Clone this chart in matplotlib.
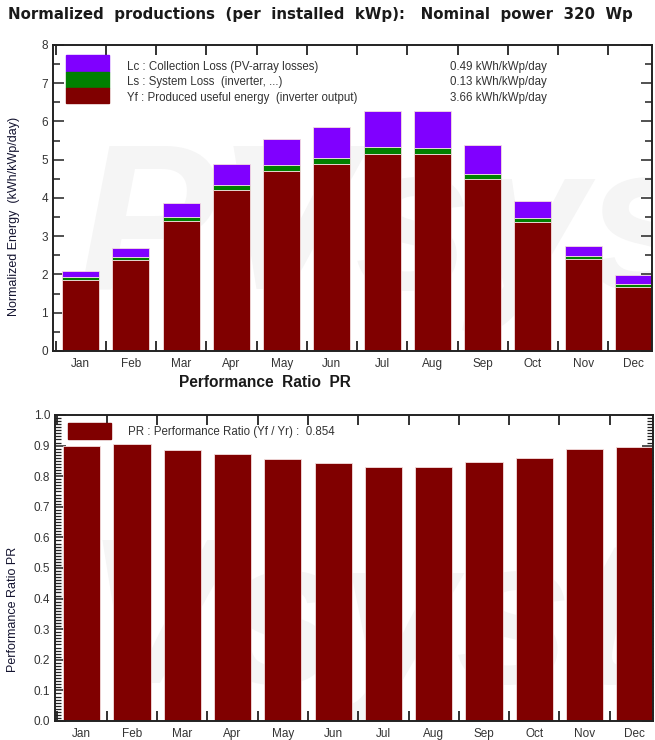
import matplotlib
matplotlib.use("Agg")
import matplotlib.pyplot as plt
from matplotlib.ticker import MultipleLocator, FixedLocator, NullFormatter
from matplotlib.patches import Rectangle

# ---- data -------------------------------------------------------------
months = ["Jan", "Feb", "Mar", "Apr", "May", "Jun",
          "Jul", "Aug", "Sep", "Oct", "Nov", "Dec"]

# Produced useful energy Yf (kWh/kWp/day)
yf = [1.86, 2.38, 3.40, 4.21, 4.71, 4.90, 5.14, 5.14, 4.49, 3.36, 2.41, 1.68]
# System loss Ls (inverter, ...)
ls = [0.07, 0.07, 0.11, 0.12, 0.14, 0.15, 0.20, 0.16, 0.15, 0.11, 0.08, 0.08]
# Collection loss Lc (PV-array losses)
lc = [0.16, 0.24, 0.37, 0.57, 0.69, 0.81, 0.94, 0.98, 0.74, 0.45, 0.26, 0.22]

# Performance ratio per month
pr = [0.900, 0.906, 0.886, 0.871, 0.855, 0.842, 0.830, 0.830, 0.846, 0.860, 0.890, 0.896]

legend_energy = ["Lc : Collection Loss (PV-array losses)",
                 "Ls : System Loss  (inverter, ...)",
                 "Yf : Produced useful energy  (inverter output)"]
legend_values = ["0.49 kWh/kWp/day", "0.13 kWh/kWp/day", "3.66 kWh/kWp/day"]
pr_legend = "PR : Performance Ratio (Yf / Yr) :  0.854"

title = "Normalized  productions  (per  installed  kWp):   Nominal  power  320  Wp"
title2 = "Performance  Ratio  PR"

# ---- style ------------------------------------------------------------
C_YF = "#800000"
C_LS = "#008000"
C_LC = "#8000ff"
TXT = "#333333"
FONT = ["Liberation Sans", "DejaVu Sans"]
NARROW = ["Liberation Sans Narrow", "Liberation Sans", "DejaVu Sans"]
plt.rcParams["font.family"] = FONT

fig = plt.figure(figsize=(6.55, 7.40), dpi=100)

ax1 = fig.add_axes([0.0809, 0.5257, 0.9145, 0.4135])
ax2 = fig.add_axes([0.0840, 0.0257, 0.9130, 0.4135])

x = list(range(len(months)))
width = 0.74


def style_axis(ax):
    for s in ax.spines.values():
        s.set_linewidth(1.4)
        s.set_color("#222222")
    ax.xaxis.set_major_locator(FixedLocator([i + 0.5 for i in range(-1, 12)]))
    ax.xaxis.set_major_formatter(NullFormatter())
    ax.xaxis.set_minor_locator(FixedLocator(x))
    ax.set_xticklabels(months, minor=True)
    ax.tick_params(axis="x", which="major", direction="in", length=7, width=1.3,
                   top=True, bottom=True, color="#222222")
    ax.tick_params(axis="x", which="minor", length=0, labelsize=8.5,
                   labelcolor=TXT, pad=5)
    ax.tick_params(axis="y", which="both", direction="in", left=True, right=True,
                   width=1.1, color="#222222", labelsize=8.5, labelcolor=TXT)


def watermark(ax, xpos, ypos):
    ax.text(xpos, ypos, "PVsyst", transform=ax.transAxes, fontsize=150,
            fontweight="bold", style="italic", color="#f5f5f5",
            ha="center", va="center", zorder=0, clip_on=True)


# ---- top: normalized productions --------------------------------------
watermark(ax1, 0.62, 0.38)
bottom_ls = yf
bottom_lc = [a + b for a, b in zip(yf, ls)]
ax1.bar(x, yf, width=width, color=C_YF, edgecolor="#f4dede", linewidth=0.6, zorder=2)
ax1.bar(x, ls, width=width, bottom=bottom_ls, color=C_LS, edgecolor="#f4dede",
        linewidth=0.6, zorder=2)
ax1.bar(x, lc, width=width, bottom=bottom_lc, color=C_LC, edgecolor="#f4dede",
        linewidth=0.6, zorder=2)
ax1.set_xlim(-0.55, 11.37)
ax1.set_ylim(0, 8)
ax1.yaxis.set_major_locator(MultipleLocator(1))
ax1.yaxis.set_minor_locator(MultipleLocator(0.5))
style_axis(ax1)
ax1.tick_params(axis="y", which="major", length=8)
ax1.tick_params(axis="y", which="minor", length=5)

# legend block (stacked colour swatches)
sw_x, sw_w = 0.021, 0.072
sw_rows = [(0.912, 0.967, C_LC), (0.859, 0.912, C_LS), (0.810, 0.859, C_YF)]
for y0, y1, c in sw_rows:
    ax1.add_patch(Rectangle((sw_x, y0), sw_w, y1 - y0, transform=ax1.transAxes,
                            color=c, zorder=3))
text_y = [0.929, 0.879, 0.828]
for t, v, ty in zip(legend_energy, legend_values, text_y):
    ax1.text(0.123, ty, t, transform=ax1.transAxes, fontsize=8.3, color=TXT,
             va="center", ha="left", zorder=4)
    ax1.text(0.662, ty, v, transform=ax1.transAxes, fontsize=8.3, color=TXT,
             va="center", ha="left", zorder=4)

# ---- bottom: performance ratio ----------------------------------------
watermark(ax2, 0.40, 0.30)
ax2.bar(x, pr, width=width, color=C_YF, edgecolor="#f4dede", linewidth=0.6, zorder=2)
ax2.set_xlim(-0.53, 11.36)
ax2.set_ylim(0, 1.0)
ax2.yaxis.set_major_locator(MultipleLocator(0.1))
ax2.yaxis.set_minor_locator(MultipleLocator(0.01))
ax2.yaxis.set_major_formatter(plt.FuncFormatter(lambda v, p: f"{v:.1f}"))
style_axis(ax2)
ax2.tick_params(axis="y", which="major", length=8)
ax2.tick_params(axis="y", which="minor", length=4, width=0.9)

ax2.add_patch(Rectangle((0.022, 0.922), 0.072, 0.052, transform=ax2.transAxes,
                        color=C_YF, zorder=3))
ax2.text(0.122, 0.946, pr_legend, transform=ax2.transAxes, fontsize=8.3,
         color=TXT, va="center", ha="left", zorder=4)

# ---- titles and axis labels -------------------------------------------
fig.text(0.012, 0.981, title, fontsize=10.8, fontweight="bold", color="#1a1a1a",
         family=["DejaVu Sans"], ha="left", va="center")
fig.text(0.405, 0.483, title2, fontsize=11.2, fontweight="bold", color="#1a1a1a",
         ha="center", va="center")
fig.text(0.022, 0.707, "Normalized Energy  (kWh/kWp/day)", rotation=90,
         fontsize=9, family=NARROW, color="#141430", ha="center", va="center")
fig.text(0.020, 0.176, "Performance Ratio PR", rotation=90, fontsize=9,
         family=NARROW, color="#141430", ha="center", va="center")

fig.savefig("out.png", dpi=100)
